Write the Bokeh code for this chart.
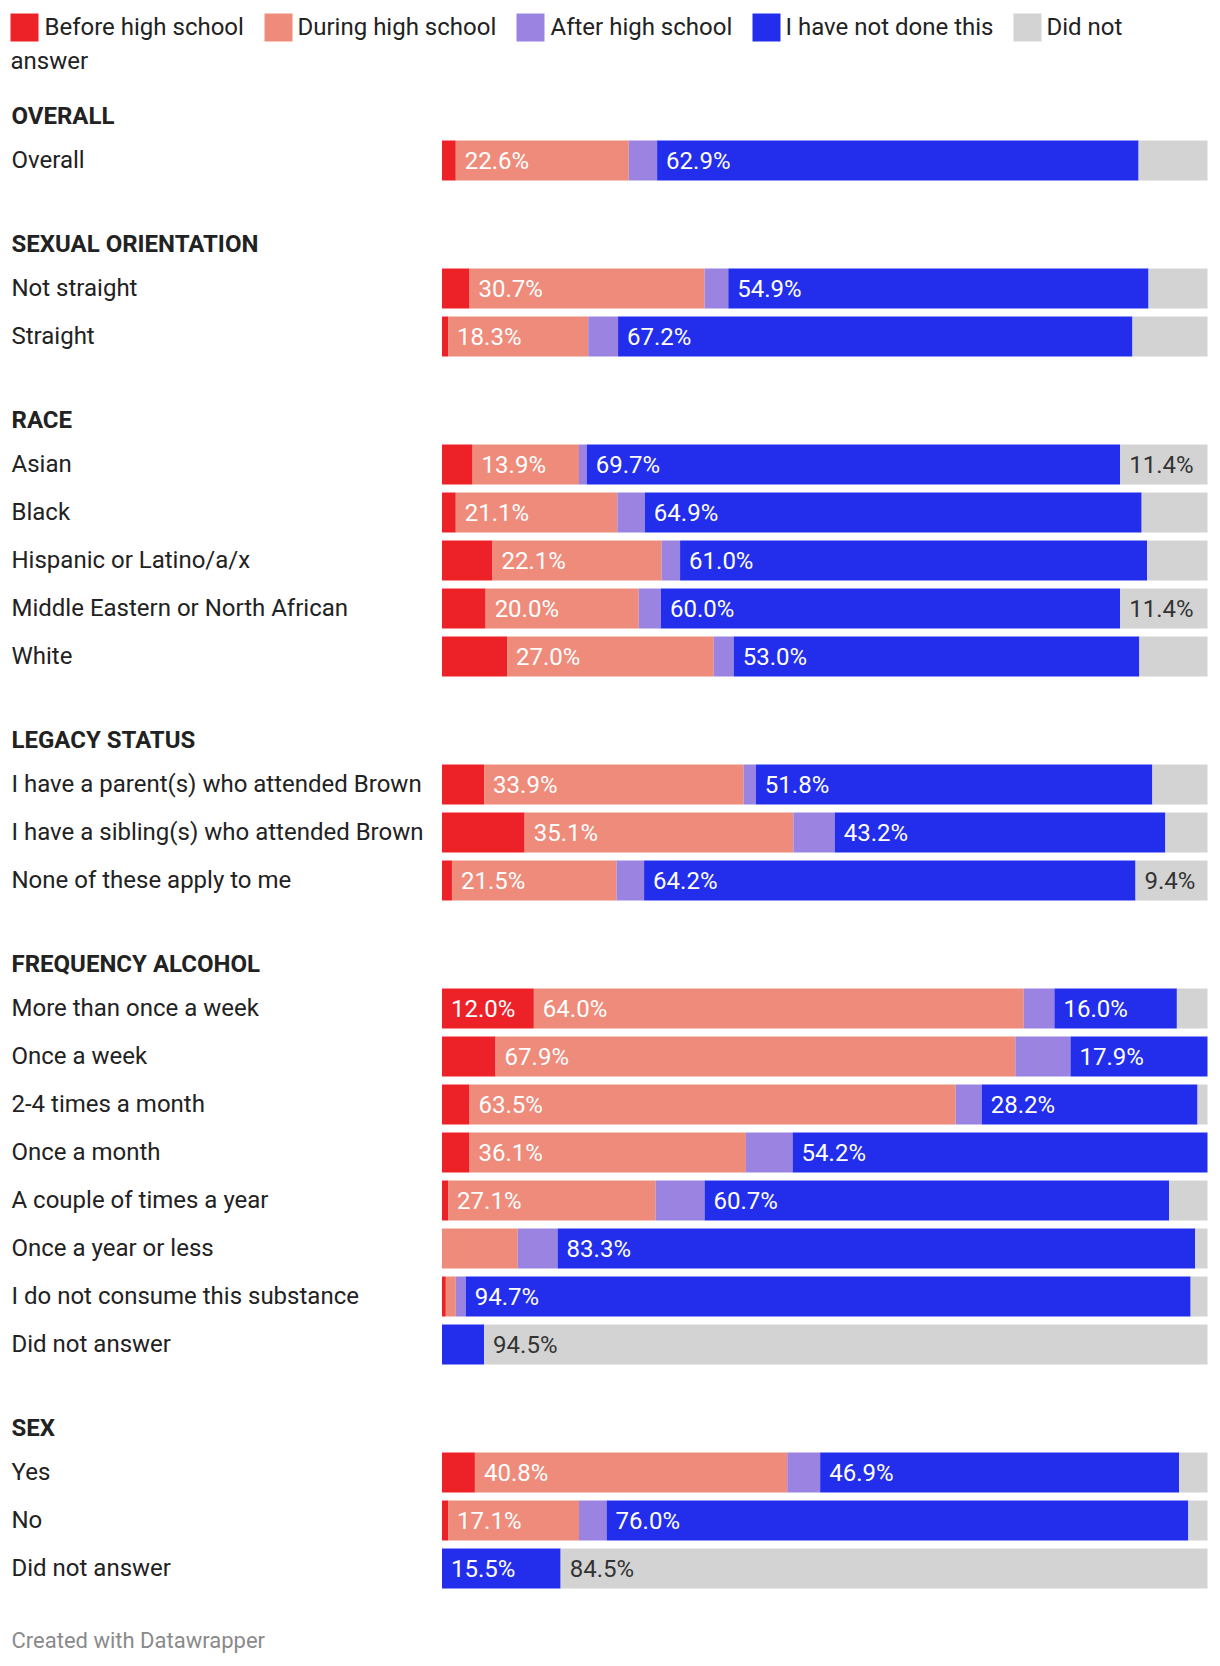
from bokeh.plotting import figure
from bokeh.models import ColumnDataSource, Range1d
from bokeh.core.properties import value
from bokeh.embed import file_html
from bokeh.resources import INLINE

# ---------------- data ----------------
series_names = ["Before high school", "During high school", "After high school",
                "I have not done this", "Did not answer"]
series_colors = ["#ed2229", "#ee8b7b", "#9a83e1", "#222eeb", "#d3d3d3"]
label_colors = ["#ffffff", "#ffffff", "#ffffff", "#ffffff", "#333333"]

sections = ["OVERALL", "SEXUAL ORIENTATION", "RACE", "LEGACY STATUS",
            "FREQUENCY ALCOHOL", "SEX"]
section_rows = [
    ["Overall"],
    ["Not straight", "Straight"],
    ["Asian", "Black", "Hispanic or Latino/a/x", "Middle Eastern or North African", "White"],
    ["I have a parent(s) who attended Brown", "I have a sibling(s) who attended Brown",
     "None of these apply to me"],
    ["More than once a week", "Once a week", "2-4 times a month", "Once a month",
     "A couple of times a year", "Once a year or less", "I do not consume this substance",
     "Did not answer"],
    ["Yes", "No", "Did not answer"],
]

before = [1.8, 3.6, 0.8, 4.0, 1.8, 6.6, 5.7, 8.5, 5.5, 10.8, 1.3,
          12.0, 7.0, 3.6, 3.6, 0.8, 0.0, 0.5, 0.0, 4.3, 0.8, 0.0]
during = [22.6, 30.7, 18.3, 13.9, 21.1, 22.1, 20.0, 27.0, 33.9, 35.1, 21.5,
          64.0, 67.9, 63.5, 36.1, 27.1, 9.9, 1.3, 0.0, 40.8, 17.1, 0.0]
after = [3.7, 3.1, 3.9, 1.0, 3.6, 2.4, 2.9, 2.6, 1.6, 5.4, 3.6,
         4.0, 7.2, 3.4, 6.1, 6.4, 5.2, 1.3, 0.0, 4.3, 3.6, 0.0]
not_done = [62.9, 54.9, 67.2, 69.7, 64.9, 61.0, 60.0, 53.0, 51.8, 43.2, 64.2,
            16.0, 17.9, 28.2, 54.2, 60.7, 83.3, 94.7, 5.5, 46.9, 76.0, 15.5]
no_answer = [9.0, 7.7, 9.8, 11.4, 8.6, 7.9, 11.4, 8.9, 7.2, 5.5, 9.4,
             4.0, 0.0, 1.3, 0.0, 5.0, 1.6, 2.2, 94.5, 3.7, 2.5, 84.5]

# which value labels are printed on the bars
show_before = [i == 11 for i in range(22)]
show_during = [i not in (16, 17, 18, 21) for i in range(22)]
show_after = [False] * 22
show_not_done = [i != 18 for i in range(22)]
show_no_answer = [i in (3, 6, 10, 18, 21) for i in range(22)]

footer = "Created with Datawrapper"

# ---------------- layout ----------------
FIG_W, FIG_H = 1212, 1658
BAR_L, BAR_R = 441.5, 1207        # page px of 0% and 100%
PX_PER = (BAR_R - BAR_L) / 100.0
FIRST_ROW, ROW_STEP, SECTION_STEP, HEAD_OFF = 160, 48, 128, 45
BAR_H = 40
FONT = value("Roboto")
FS = "24px"

def pct(px):
    return (px - BAR_L) / PX_PER

p = figure(width=FIG_W, height=FIG_H,
           x_range=Range1d(pct(0), pct(FIG_W)),
           y_range=Range1d(FIG_H, 0),
           x_axis_type=None, y_axis_type=None,
           output_backend="svg", toolbar_location=None, min_border=0)
p.extra_x_ranges = {"px": Range1d(0, FIG_W)}
p.grid.visible = False
p.outline_line_color = None
p.background_fill_color = "white"
p.border_fill_color = "white"

# row positions
row_y, row_names, head_y = [], [], []
y = FIRST_ROW
for si, rows in enumerate(section_rows):
    head_y.append(y - HEAD_OFF)
    for ri, r in enumerate(rows):
        row_y.append(y)
        row_names.append(r)
        if ri < len(rows) - 1:
            y += ROW_STEP
    y += SECTION_STEP

# headings and row labels
p.text(x=[11] * len(sections), y=head_y, text=sections, x_range_name="px",
       text_font=FONT, text_font_size=FS, text_font_style="bold",
       text_color="#222222", text_baseline="middle", text_align="left")
p.text(x=[11] * len(row_names), y=[v - 1 for v in row_y], text=row_names, x_range_name="px",
       text_font=FONT, text_font_size=FS, text_color="#222222",
       text_baseline="middle", text_align="left")

# stacked bars
all_series = [before, during, after, not_done, no_answer]
all_show = [show_before, show_during, show_after, show_not_done, show_no_answer]
cum = [0.0] * len(row_y)
for vals, col, lcol, show in zip(all_series, series_colors, label_colors, all_show):
    left = cum[:]
    right = [a + b for a, b in zip(cum, vals)]
    src = ColumnDataSource(dict(y=row_y, left=left, right=right))
    p.hbar(y="y", left="left", right="right", height=BAR_H, source=src,
           fill_color=col, line_color=None)
    lx = [l for l, s in zip(left, show) if s]
    ly = [yy for yy, s in zip(row_y, show) if s]
    lt = [f"{v:.1f}%" for v, s in zip(vals, show) if s]
    if lt:
        p.text(x=lx, y=ly, text=lt, x_offset=9, text_font=FONT, text_font_size=FS,
               text_color=lcol, text_baseline="middle", text_align="left")
    cum = right

# legend (wraps onto a second line like the original)
leg_sq_x = [10, 264, 516, 752, 1013]
leg_txt_x = [44, 297, 550, 785, 1046]
leg_texts = ["Before high school", "During high school", "After high school",
             "I have not done this", "Did not"]
p.quad(left=leg_sq_x, right=[x + 28 for x in leg_sq_x], top=[13] * 5, bottom=[41] * 5,
       fill_color=series_colors, line_color=None, x_range_name="px")
p.text(x=leg_txt_x, y=[26] * 5, text=leg_texts, x_range_name="px",
       text_font=FONT, text_font_size=FS, text_color="#222222",
       text_baseline="middle", text_align="left")
p.text(x=[10], y=[60], text=["answer"], x_range_name="px",
       text_font=FONT, text_font_size=FS, text_color="#222222",
       text_baseline="middle", text_align="left")

# footer
p.text(x=[11], y=[1640], text=[footer], x_range_name="px",
       text_font=FONT, text_font_size="22px", text_color="#8a8a8a",
       text_baseline="middle", text_align="left")

open("out.html", "w").write(file_html(p, INLINE))
